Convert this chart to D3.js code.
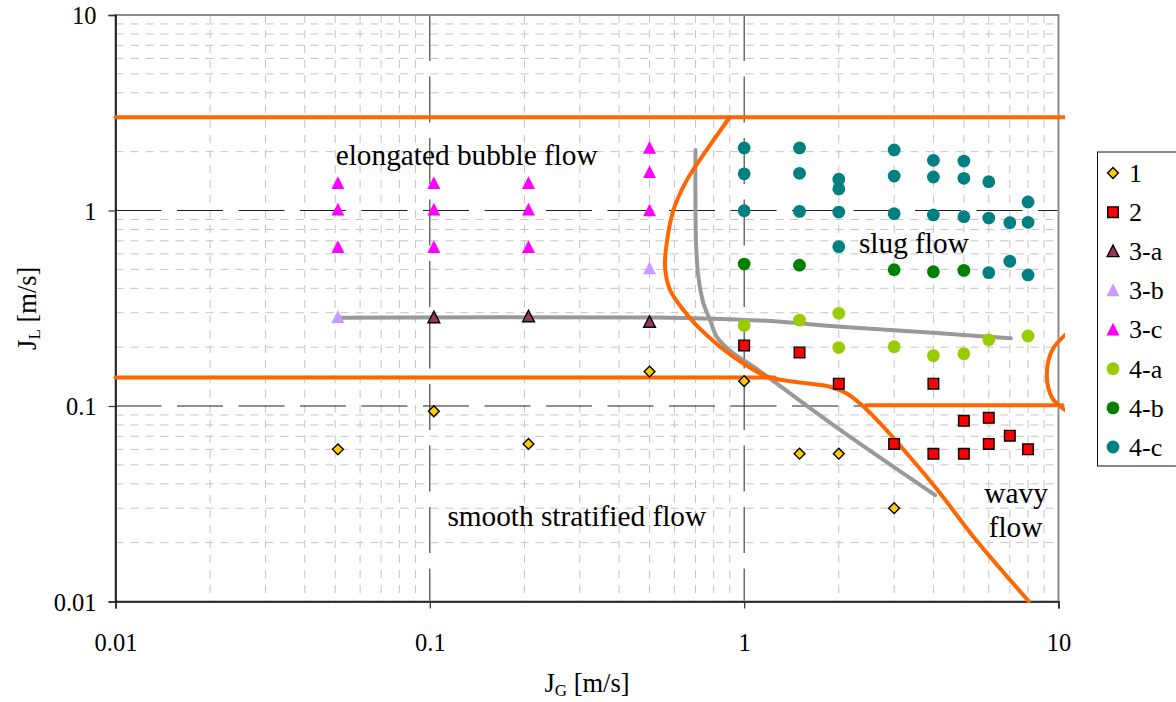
<!DOCTYPE html>
<html>
<head>
<meta charset="utf-8">
<script src="https://cdn.jsdelivr.net/npm/d3@7"></script>
<style>
  html, body { margin: 0; padding: 0; background: #fff; }
  svg { display: block; font-family: "Liberation Serif", "Times New Roman", serif; }
</style>
</head>
<body>
<svg id="chart" width="1176" height="702"></svg>
<script>
// Flow-pattern map: superficial gas velocity J_G vs liquid velocity J_L (log-log)

const axisTicks = [0.01, 0.1, 1, 10];
const axisTickLabels = ["0.01", "0.1", "1", "10"];

// Observed flow patterns, [J_G, J_L] in m/s
const series1 = [[0.051, 0.060], [0.103, 0.094], [0.206, 0.064], [0.5, 0.15], [1, 0.134],
                 [1.5, 0.057], [2, 0.057], [3, 0.030]];
const series2 = [[1, 0.204], [1.5, 0.188], [2, 0.13], [4, 0.13], [3, 0.064], [4, 0.057],
                 [5, 0.057], [5, 0.084], [6, 0.087], [6, 0.064], [7, 0.0705], [8, 0.060]];
const series3a = [[0.103, 0.284], [0.206, 0.287], [0.5, 0.269]];
const series3b = [[0.051, 0.285], [0.5, 0.506]];
const series3c = [[0.051, 1.38], [0.051, 1.01], [0.051, 0.65],
                  [0.103, 1.38], [0.103, 1.01], [0.103, 0.65],
                  [0.206, 1.38], [0.206, 1.01], [0.206, 0.65],
                  [0.5, 2.09], [0.5, 1.57], [0.5, 1.0]];
const series4a = [[1, 0.258], [1.5, 0.275], [2, 0.298], [2, 0.199], [3, 0.201], [4, 0.181],
                  [5, 0.185], [6, 0.218], [8, 0.228]];
const series4b = [[1, 0.532], [1.5, 0.525], [3, 0.498], [4, 0.486], [5, 0.494]];
const series4c = [[1, 2.09], [1, 1.54], [1, 0.997], [1.5, 2.09], [1.5, 1.55], [1.5, 0.99],
                  [2, 1.445], [2, 1.29], [2, 0.982], [2, 0.653],
                  [3, 2.04], [3, 1.50], [3, 0.963], [4, 1.806], [4, 1.484], [4, 0.949],
                  [5, 1.79], [5, 1.461], [5, 0.93], [6, 1.404], [6, 0.915], [6, 0.481],
                  [7, 0.867], [7, 0.55], [8, 1.105], [8, 0.87], [8, 0.468]];

// Transition boundaries (orange)
const boundaryTop = [[0.01, 3], [10.5, 3]];
const boundaryStratified = [[0.01, 0.14], [1.25, 0.14]];
const boundaryBubbleSlug = [[0.90, 3.0], [0.76, 2.04], [0.657, 1.43], [0.595, 1.0], [0.567, 0.68],
                            [0.56, 0.516], [0.581, 0.392], [0.641, 0.31], [0.703, 0.26], [0.838, 0.201],
                            [0.994, 0.165], [1.19, 0.141], [1.58, 0.1306], [1.877, 0.1255], [2.12, 0.116],
                            [2.40, 0.0992], [2.71, 0.0815], [3.29, 0.0573], [4.20, 0.0358],
                            [5.36, 0.02145], [8.05, 0.01]];
const boundaryWavy = [[2.44, 0.101], [10.3, 0.101]];
const boundaryArc = [[10.5, 0.231], [9.55, 0.193], [9.18, 0.144], [9.55, 0.110], [10.5, 0.0954]];

// Alternative transition lines (gray)
const altLineH = [[0.051, 0.283], [0.5, 0.284], [0.7, 0.281], [1.21, 0.272], [2.02, 0.2545],
                  [4.2, 0.2354], [7.05, 0.222]];
const altLineV = [[0.70, 2.04], [0.703, 0.68], [0.715, 0.458], [0.742, 0.335], [0.779, 0.275],
                  [0.818, 0.226], [0.924, 0.186], [1.07, 0.159], [2.02, 0.0754], [4.05, 0.035]];

const legendLabels = ["1", "2", "3-a", "3-b", "3-c", "4-a", "4-b", "4-c"];

const svg = d3.select("#chart");
const plotLeft = 115.5, plotRight = 1058.5, plotTop = 15, plotBottom = 601.5;

const x = d3.scaleLog().domain([0.01, 10]).range([plotLeft, plotRight]);
const y = d3.scaleLog().domain([0.01, 10]).range([plotBottom, plotTop]);

// --- minor grid
const minorX = x.ticks().filter(v => !axisTicks.some(t => Math.abs(t - v) < 1e-9));
const minorY = y.ticks().filter(v => !axisTicks.some(t => Math.abs(t - v) < 1e-9));
const grid = svg.append("g");
grid.selectAll(".gx").data(minorX).join("line")
  .attr("x1", d => x(d)).attr("x2", d => x(d)).attr("y1", plotTop).attr("y2", plotBottom)
  .attr("stroke", "#c4c4c4").attr("stroke-width", 1).attr("stroke-dasharray", "8,7");
grid.selectAll(".gy").data(minorY).join("line")
  .attr("x1", plotLeft).attr("x2", plotRight).attr("y1", d => y(d)).attr("y2", d => y(d))
  .attr("stroke", "#c4c4c4").attr("stroke-width", 1).attr("stroke-dasharray", "8,7");

// --- major grid (inner decades)
const majorInner = [0.1, 1];
grid.selectAll(".mx").data(majorInner).join("line")
  .attr("x1", d => x(d)).attr("x2", d => x(d)).attr("y1", plotTop).attr("y2", plotBottom)
  .attr("stroke", "#222").attr("stroke-width", 1).attr("stroke-dasharray", "46,15.5");
grid.selectAll(".my").data(majorInner).join("line")
  .attr("x1", plotLeft).attr("x2", plotRight).attr("y1", d => y(d)).attr("y2", d => y(d))
  .attr("stroke", "#222").attr("stroke-width", 1).attr("stroke-dasharray", "46,15.5");

// --- plot frame
svg.append("rect").attr("x", plotLeft).attr("y", plotTop)
  .attr("width", plotRight - plotLeft).attr("height", plotBottom - plotTop)
  .attr("fill", "none").attr("stroke", "#8c8c8c").attr("stroke-width", 2);

// --- axes
const fmt = d => axisTickLabels[axisTicks.indexOf(d)];
const xAxis = svg.append("g").attr("transform", `translate(0,${plotBottom})`)
  .call(d3.axisBottom(x).tickValues(axisTicks).tickFormat(fmt).tickSize(7).tickPadding(25));
const yAxis = svg.append("g").attr("transform", `translate(${plotLeft},0)`)
  .call(d3.axisLeft(y).tickValues(axisTicks).tickFormat(fmt).tickSize(7).tickPadding(12));
[xAxis, yAxis].forEach(a => {
  a.select(".domain").attr("stroke", "#111").attr("stroke-width", 1.6);
  a.selectAll(".tick line").attr("stroke", "#333").attr("stroke-width", 1.2);
  a.selectAll("text").attr("font-family", "Liberation Serif").attr("font-size", 24.5).attr("fill", "#000");
});
yAxis.selectAll("text").attr("dy", "0.36em");

// Axis titles
const xt = svg.append("text").attr("x", (plotLeft + plotRight) / 2).attr("y", 692)
  .attr("text-anchor", "middle").attr("font-size", 26.5);
xt.append("tspan").text("J");
xt.append("tspan").attr("font-size", 17).attr("dy", 4).text("G");
xt.append("tspan").attr("dy", -4).text(" [m/s]");

const yt = svg.append("text").attr("transform", `translate(36,${(plotTop + plotBottom) / 2}) rotate(-90)`)
  .attr("text-anchor", "middle").attr("font-size", 26.5);
yt.append("tspan").text("J");
yt.append("tspan").attr("font-size", 17).attr("dy", 4).text("L");
yt.append("tspan").attr("dy", -4).text(" [m/s]");

// --- boundary lines
svg.append("clipPath").attr("id", "plotclip").append("rect")
  .attr("x", plotLeft - 4).attr("y", plotTop)
  .attr("width", plotRight - plotLeft + 10.5).attr("height", plotBottom - plotTop + 2);
const lineGen = d3.line().x(d => x(d[0])).y(d => y(d[1])).curve(d3.curveCatmullRom.alpha(0.5));
const lines = svg.append("g").attr("clip-path", "url(#plotclip)");
[altLineH, altLineV].forEach(pts => {
  lines.append("path").attr("d", lineGen(pts)).attr("fill", "none")
    .attr("stroke", "#999999").attr("stroke-width", 4).attr("stroke-linecap", "round");
});
[boundaryTop, boundaryStratified, boundaryBubbleSlug, boundaryWavy, boundaryArc].forEach(pts => {
  lines.append("path").attr("d", lineGen(pts)).attr("fill", "none")
    .attr("stroke", "#ff6600").attr("stroke-width", 4).attr("stroke-linecap", "round")
    .attr("stroke-linejoin", "round");
});

// --- marker shapes
const shapes = {
  diamond: r => `M0,${-r}L${r},0L0,${r}L${-r},0Z`,
  square: r => `M${-r},${-r}H${r}V${r}H${-r}Z`,
  triangle: r => `M0,${-r * 1.05}L${r},${r * 0.9}L${-r},${r * 0.9}Z`,
  circle: r => `M${r},0A${r},${r} 0 1,1 ${-r},0A${r},${r} 0 1,1 ${r},0Z`
};
const seriesDefs = [
  { data: series1,  shape: "diamond",  r: 5.4, fill: "#ffcc00", stroke: "#000", sw: 1.4 },
  { data: series2,  shape: "square",   r: 5.3, fill: "#ff0000", stroke: "#000", sw: 1.4 },
  { data: series3a, shape: "triangle", r: 5.9, fill: "#993366", stroke: "#000", sw: 1.4 },
  { data: series3b, shape: "triangle", r: 6.5, fill: "#cc99ff", stroke: "none", sw: 0 },
  { data: series3c, shape: "triangle", r: 6.5, fill: "#ff00ff", stroke: "none", sw: 0 },
  { data: series4a, shape: "circle",   r: 6.4, fill: "#99cc00", stroke: "none", sw: 0 },
  { data: series4b, shape: "circle",   r: 6.4, fill: "#008000", stroke: "none", sw: 0 },
  { data: series4c, shape: "circle",   r: 6.4, fill: "#008080", stroke: "none", sw: 0 }
];
const marks = svg.append("g");
seriesDefs.forEach(s => {
  marks.append("g").selectAll("path").data(s.data).join("path")
    .attr("transform", d => `translate(${x(d[0])},${y(d[1])})`)
    .attr("d", shapes[s.shape](s.r))
    .attr("fill", s.fill).attr("stroke", s.stroke).attr("stroke-width", s.sw);
});

// --- region annotations (anchored in data coordinates)
const notes = [
  { t: "elongated bubble flow", jg: 0.131, jl: 1.709 },
  { t: "slug flow", jg: 3.467, jl: 0.604 },
  { t: "smooth stratified flow", jg: 0.2934, jl: 0.0243 },
  { t: "wavy", jg: 7.33, jl: 0.0318 },
  { t: "flow", jg: 7.30, jl: 0.0213 }
];
svg.append("g").selectAll("text").data(notes).join("text")
  .attr("x", d => x(d.jg)).attr("y", d => y(d.jl))
  .attr("text-anchor", "middle").attr("font-size", 29.3).attr("fill", "#000")
  .text(d => d.t);

// --- legend
const lg = svg.append("g");
lg.append("rect").attr("x", 1097.5).attr("y", 152).attr("width", 80).attr("height", 314)
  .attr("fill", "#fff").attr("stroke", "#111").attr("stroke-width", 1);
const ly = d3.scalePoint().domain(legendLabels).range([173, 447]);
legendLabels.forEach((lab, i) => {
  const s = seriesDefs[i];
  lg.append("path").attr("transform", `translate(1113,${ly(lab)})`)
    .attr("d", shapes[s.shape](s.r)).attr("fill", s.fill).attr("stroke", s.stroke).attr("stroke-width", s.sw);
  lg.append("text").attr("x", 1129).attr("y", ly(lab)).attr("dy", "0.34em")
    .attr("font-size", 26).text(lab);
});
</script>
</body>
</html>
